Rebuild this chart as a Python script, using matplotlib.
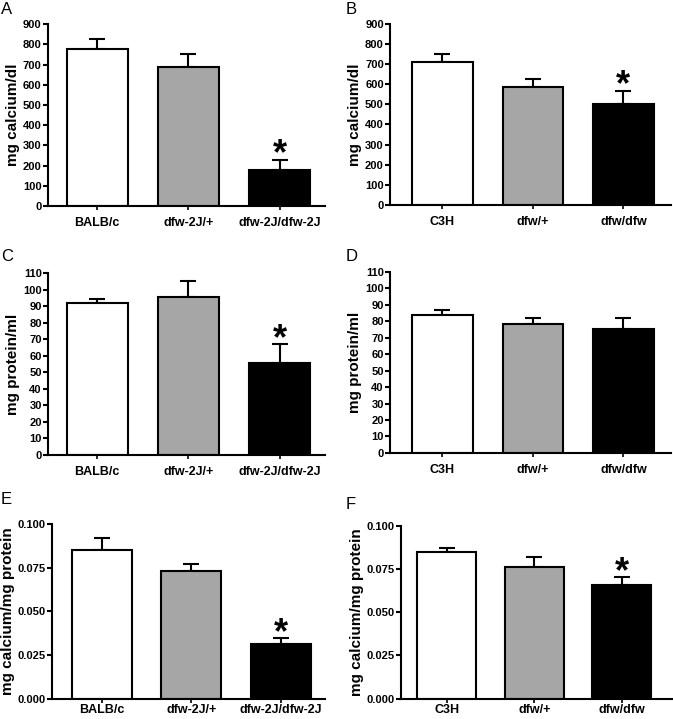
import matplotlib.pyplot as plt

plt.rcParams['font.family'] = ['Liberation Sans', 'DejaVu Sans']

# data
balb_groups = ['BALB/c', 'dfw-2J/+', 'dfw-2J/dfw-2J']
c3h_groups = ['C3H', 'dfw/+', 'dfw/dfw']

a_mean = [775, 690, 180]
a_err = [52, 60, 50]
b_mean = [712, 587, 502]
b_err = [40, 38, 66]
c_mean = [92, 95.5, 55.5]
c_err = [2.5, 10, 11.5]
d_mean = [83.5, 78, 75]
d_err = [3.5, 4, 7]
e_mean = [0.085, 0.073, 0.031]
e_err = [0.007, 0.004, 0.0035]
f_mean = [0.085, 0.076, 0.066]
f_err = [0.002, 0.006, 0.0045]

a_star = [False, False, True]
b_star = [False, False, True]
c_star = [False, False, True]
d_star = [False, False, False]
e_star = [False, False, True]
f_star = [False, False, True]

ticks_ca = list(range(0, 901, 100))
ticks_pr = list(range(0, 111, 10))
ticks_ratio = [0.0, 0.025, 0.05, 0.075, 0.1]
ratio_labels = ['0.000', '0.025', '0.050', '0.075', '0.100']

colors = ['white', '#a6a6a6', 'black']

fig = plt.figure(figsize=(6.73, 7.19), dpi=100)

panels = [
    ('A', [0.0713, 0.7135, 0.412, 0.253], balb_groups, a_mean, a_err, a_star, 'mg calcium/dl', ticks_ca, None, (-0.54, 2.5), 5),
    ('B', [0.5795, 0.7150, 0.418, 0.252], c3h_groups, b_mean, b_err, b_star, 'mg calcium/dl', ticks_ca, None, (-0.58, 2.53), 5),
    ('C', [0.0713, 0.3672, 0.412, 0.253], balb_groups, c_mean, c_err, c_star, 'mg protein/ml', ticks_pr, None, (-0.54, 2.5), 5),
    ('D', [0.5795, 0.3700, 0.418, 0.252], c3h_groups, d_mean, d_err, d_star, 'mg protein/ml', ticks_pr, None, (-0.58, 2.53), 5),
    ('E', [0.0773, 0.0285, 0.406, 0.2427], balb_groups, e_mean, e_err, e_star, 'mg calcium/mg protein', ticks_ratio, ratio_labels, (-0.56, 2.5), 1),
    ('F', [0.5960, 0.0285, 0.402, 0.2399], c3h_groups, f_mean, f_err, f_star, 'mg calcium/mg protein', ticks_ratio, ratio_labels, (-0.52, 2.57), 1),
]

# letter placement in pixels (left, top)
letter_px = {'A': (1, 2), 'B': (346, 2), 'C': (1, 249), 'D': (346, 249), 'E': (1, 492), 'F': (346, 497)}

for letter, rect, groups, mean, err, star, ylab, yt, ytl, xl, xpad in panels:
    ax = fig.add_axes(rect)
    x = list(range(len(groups)))
    ax.bar(x, mean, width=0.67, color=colors, edgecolor='black', linewidth=1.5, zorder=2)
    ax.errorbar(x, mean, yerr=[[0] * 3, err], fmt='none', ecolor='black',
                elinewidth=1.5, capsize=6, capthick=1.5, zorder=1)
    for i in x:
        if star[i]:
            ax.annotate('*', (i, mean[i] + err[i]), xytext=(0, -3.5), textcoords='offset points',
                        ha='center', va='baseline', fontsize=26, fontweight='bold')
    ax.set_xlim(*xl)
    ax.set_ylim(yt[0], yt[-1])
    ax.set_yticks(yt)
    if ytl:
        ax.set_yticklabels(ytl)
    ax.set_xticks(x)
    ax.set_xticklabels(groups)
    ax.set_ylabel(ylab, fontsize=11, fontweight='bold', labelpad=2)
    for s in ['top', 'right']:
        ax.spines[s].set_visible(False)
    for s in ['left', 'bottom']:
        ax.spines[s].set_linewidth(1.5)
    ax.tick_params(axis='y', length=3.5, width=1.5, pad=1, labelsize=8)
    ax.tick_params(axis='x', length=3, width=1.2, pad=xpad, labelsize=9)
    for lab in ax.get_xticklabels() + ax.get_yticklabels():
        lab.set_fontweight('bold')
    lx, ly = letter_px[letter]
    fig.text(lx / 673, 1 - ly / 719, letter, fontsize=12, va='top', ha='left')

fig.savefig('out.png', dpi=100)
